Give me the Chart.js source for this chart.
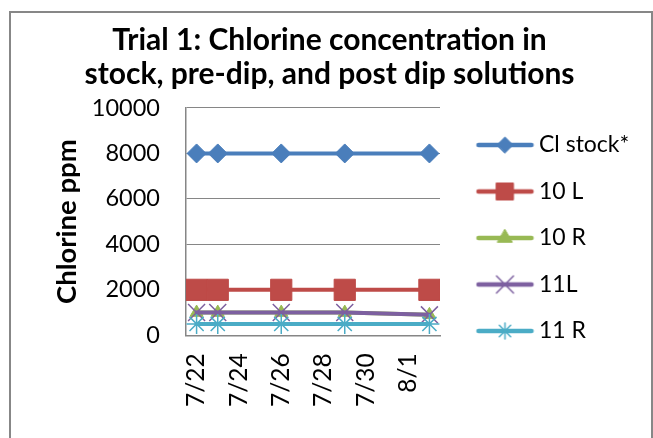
<!DOCTYPE html>
<html>
<head>
<meta charset="utf-8">
<script src="https://cdn.jsdelivr.net/npm/chart.js@4.4.1/dist/chart.umd.min.js"></script>
<style>
  html, body { margin: 0; padding: 0; background: #fff; overflow: hidden; }
  #frame { position: absolute; left: 9px; top: 11px; width: 640px; height: 500px; border: 2px solid #878787; }
  #wrap { position: absolute; left: 0; top: 0; width: 653px; height: 438px; }
</style>
</head>
<body>
<div id="frame"></div>
<div id="wrap"><canvas id="chlorineChart" width="653" height="438"></canvas></div>
<script>
// sample dates and chlorine readings (ppm)
const sampleDates = ['7/22', '7/23', '7/26', '7/29', '8/2'];
const clStock = [8000, 8000, 8000, 8000, 8000];
const tenL = [2000, 2000, 2000, 2000, 2000];
const tenR = [1000, 1000, 1000, 1000, 900];
const elevenL = [1000, 1000, 1000, 1000, 900];
const elevenR = [500, 500, 500, 500, 500];

const dateTicks = ['7/22', '7/24', '7/26', '7/28', '7/30', '8/1'];
const yTicks = [0, 2000, 4000, 6000, 8000, 10000];

const dayNum = s => {
    const [m, d] = s.split('/').map(Number);
    return Date.UTC(2013, m - 1, d) / 86400000;
};

const series = [
    { label: 'Cl stock*', values: clStock, color: '#4A7EBB', point: 'rectRot', radius: 9.5, legendRadius: 8 },
    { label: '10 L', values: tenL, color: '#BE4B48', point: 'rect', radius: 15, legendRadius: 12 },
    { label: '10 R', values: tenR, color: '#98B954', point: 'triangle', radius: 7.5, legendRadius: 8.5 },
    { label: '11L', values: elevenL, color: '#7D60A0', point: 'crossRot', radius: 12, legendRadius: 12, stroke: true },
    { label: '11 R', values: elevenR, color: '#4BACC6', point: 'star', radius: 10, legendRadius: 8, stroke: true }
];

// legend swatch: short line with the marker on it, like Excel
function legendIcon(s) {
    const c = document.createElement('canvas');
    c.width = 78;
    c.height = 26;
    const g = c.getContext('2d');
    g.strokeStyle = s.color;
    g.fillStyle = s.color;
    g.lineWidth = 4.5;
    g.lineCap = 'round';
    g.beginPath();
    g.moveTo(22, 13);
    g.lineTo(75, 13);
    g.stroke();
    g.lineWidth = s.stroke ? 1.5 : 1;
    Chart.helpers.drawPoint(g, { pointStyle: s.point, radius: s.legendRadius, rotation: 0, borderWidth: g.lineWidth }, 48.5, 13);
    return c;
}

// the right layout padding leaves room for the legend; move the legend into it
// and centre the title on the whole frame rather than the padded area
const excelLayout = {
    id: 'excelLayout',
    afterLayout(chart) {
        const lg = chart.legend;
        if (lg) {
            lg.left = chart.chartArea.right;
            lg.top = 0;
            lg.right = chart.width;
            lg.bottom = chart.height;
            lg.width = lg.right - lg.left;
            lg.height = chart.height;
        }
        if (chart.titleBlock) {
            chart.titleBlock.left = 6;
            chart.titleBlock.right = chart.width;
            chart.titleBlock.width = chart.width - 6;
        }
    }
};

Chart.defaults.font.family = 'Lato';
Chart.defaults.color = '#000';

const ctx = document.getElementById('chlorineChart').getContext('2d');
const chlorineChart = new Chart(ctx, {
    type: 'line',
    data: {
        datasets: series.map((s, i) => ({
            label: s.label,
            data: s.values.map((v, j) => ({ x: dayNum(sampleDates[j]), y: v })),
            borderColor: s.color,
            backgroundColor: s.color,
            borderWidth: 4,
            borderCapStyle: 'round',
            borderJoinStyle: 'round',
            tension: 0,
            pointStyle: s.point,
            pointRadius: s.radius,
            pointHoverRadius: s.radius,
            pointBorderWidth: s.stroke ? 1.5 : 1,
            pointBorderColor: s.color,
            pointBackgroundColor: s.color,
            order: series.length - i, // later series on top, as in Excel
            icon: legendIcon(s)
        }))
    },
    plugins: [excelLayout],
    options: {
        responsive: false,
        animation: false,
        layout: { padding: { left: 39, right: 213, top: 0, bottom: 13 } },
        plugins: {
            title: {
                display: true,
                text: ['Trial 1: Chlorine concentration in', 'stock, pre-dip, and post dip solutions'],
                color: '#000',
                font: { size: 30, weight: 'bold', lineHeight: 1.133 },
                padding: { top: 23, bottom: 17 }
            },
            legend: {
                position: 'chartArea',
                align: 'start',
                title: { display: true, text: ' ', font: { size: 10 }, padding: 49 },
                labels: {
                    usePointStyle: true,
                    pointStyleWidth: 64,
                    padding: 23.5,
                    color: '#000',
                    font: { size: 23 },
                    sort: (a, b) => a.datasetIndex - b.datasetIndex,
                    generateLabels: chart => chart.data.datasets.map((d, i) => ({
                        text: d.label,
                        pointStyle: d.icon,
                        datasetIndex: i,
                        fillStyle: d.borderColor,
                        strokeStyle: d.borderColor,
                        fontColor: '#000',
                        lineWidth: 0,
                        hidden: false
                    }))
                }
            },
            tooltip: { enabled: false }
        },
        scales: {
            x: {
                type: 'linear',
                min: dayNum(sampleDates[0]) - 0.5,
                max: dayNum(sampleDates[sampleDates.length - 1]) + 0.5,
                afterBuildTicks: scale => { scale.ticks = dateTicks.map(t => ({ value: dayNum(t) })); },
                grid: { display: true, drawOnChartArea: false, drawTicks: false },
                border: { color: '#868686', width: 1.5 },
                ticks: {
                    autoSkip: false,
                    minRotation: 90,
                    maxRotation: 90,
                    padding: 18,
                    color: '#000',
                    font: { size: 24.5 },
                    callback: (v, i) => dateTicks[i]
                }
            },
            y: {
                min: yTicks[0],
                max: yTicks[yTicks.length - 1],
                afterBuildTicks: scale => { scale.ticks = yTicks.map(v => ({ value: v })); },
                afterFit: scale => { scale.width = 147; }, // title + labels, as wide as Excel's
                grid: { color: '#868686', lineWidth: 1, drawTicks: false },
                border: { color: '#868686', width: 1.5 },
                ticks: { padding: 26, color: '#000', font: { size: 23.5 }, callback: v => String(v) },
                title: {
                    display: true,
                    text: 'Chlorine ppm',
                    color: '#000',
                    font: { size: 27.5, weight: 'bold' },
                    padding: { top: 11.5, bottom: 14.5 }
                }
            }
        }
    }
});
</script>
</body>
</html>
